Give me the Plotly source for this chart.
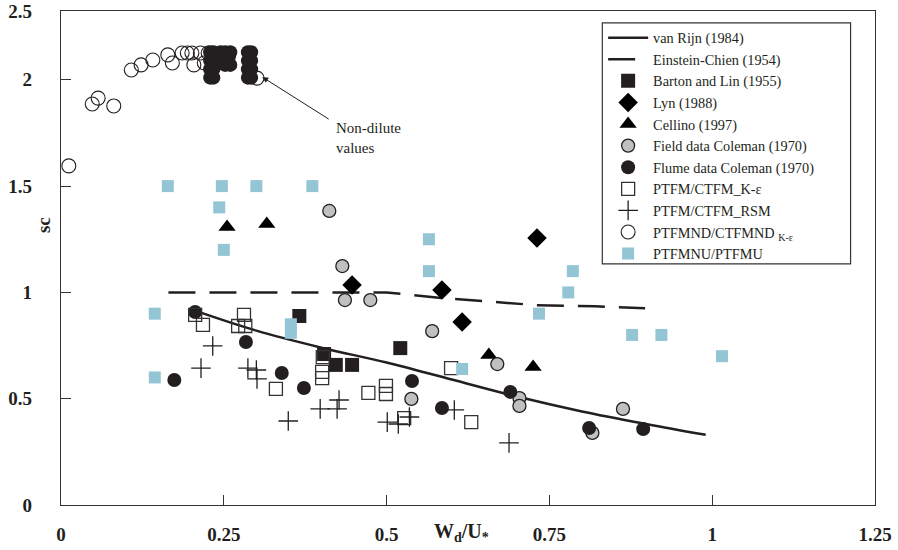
import plotly.graph_objects as go

# ---- data ---------------------------------------------------------------
# van Rijn (1984) curve
vr_x = [0.20, 0.30, 0.40, 0.50, 0.60, 0.70, 0.80, 0.90, 0.99]
vr_y = [0.92, 0.82, 0.74, 0.67, 0.59, 0.51, 0.44, 0.38, 0.33]

# Einstein-Chien (1954) curve
ec_x = [0.165, 0.50, 0.58, 0.66, 0.73, 0.82, 0.897]
ec_y = [1.00, 1.00, 0.975, 0.955, 0.94, 0.935, 0.925]

# Barton and Lin (1955)
bl_x = [0.366, 0.404, 0.422, 0.447, 0.521]
bl_y = [0.889, 0.710, 0.659, 0.659, 0.738]

# Lyn (1988)
lyn_x = [0.447, 0.585, 0.616, 0.731]
lyn_y = [1.035, 1.011, 0.861, 1.256]

# Cellino (1997)
cel_x = [0.255, 0.316, 0.657, 0.725]
cel_y = [1.308, 1.322, 0.706, 0.649]

# Field data Coleman (1970)
fld_x = [0.412, 0.432, 0.436, 0.475, 0.570, 0.670, 0.538, 0.704, 0.704, 0.863, 0.816]
fld_y = [1.383, 1.124, 0.964, 0.964, 0.818, 0.663, 0.499, 0.503, 0.466, 0.452, 0.339]

# Flume data Coleman (1970)
flm_x = [0.206, 0.284, 0.174, 0.339, 0.373, 0.539, 0.585, 0.690, 0.811, 0.894]
flm_y = [0.908, 0.767, 0.588, 0.621, 0.550, 0.583, 0.456, 0.532, 0.362, 0.357]

# PTFM/CTFM K-epsilon
ke_x = [0.206, 0.218, 0.281, 0.272, 0.283, 0.402, 0.401, 0.401, 0.330,
        0.472, 0.499, 0.499, 0.527, 0.599, 0.630]
ke_y = [0.894, 0.847, 0.894, 0.842, 0.842, 0.696, 0.626, 0.597, 0.546,
        0.527, 0.560, 0.522, 0.409, 0.644, 0.390]

# PTFM/CTFM RSM
rsm_x = [0.233, 0.215, 0.287, 0.300, 0.301, 0.349, 0.398, 0.424, 0.427,
         0.501, 0.518, 0.535, 0.604, 0.688]
rsm_y = [0.748, 0.644, 0.644, 0.635, 0.593, 0.395, 0.452, 0.452, 0.494,
         0.390, 0.381, 0.414, 0.447, 0.292]

# PTFMND/CTFMND K-epsilon (non-dilute runs)
nd_x = [0.012, 0.048, 0.057, 0.081, 0.108, 0.123, 0.141, 0.164, 0.171,
        0.186, 0.194, 0.201, 0.204, 0.214, 0.220, 0.226, 0.301]
nd_y = [1.595, 1.886, 1.914, 1.877, 2.046, 2.070, 2.093, 2.117, 2.079,
        2.126, 2.126, 2.126, 2.070, 2.126, 2.079, 2.126, 2.008]

# densely packed non-dilute values
ndc_x = [0.229, 0.229, 0.229, 0.229, 0.234, 0.234, 0.234, 0.234,
         0.240, 0.245, 0.245, 0.250, 0.252, 0.252, 0.258, 0.260, 0.260,
         0.287, 0.287, 0.287, 0.287, 0.292, 0.292, 0.292, 0.292]
ndc_y = [2.13, 2.09, 2.05, 2.01, 2.13, 2.09, 2.05, 2.01,
         2.11, 2.13, 2.08, 2.11, 2.13, 2.07, 2.11, 2.13, 2.07,
         2.13, 2.09, 2.05, 2.01, 2.13, 2.09, 2.05, 2.01]

# PTFMNU/PTFMU
nu_x = [0.164, 0.247, 0.300, 0.386, 0.243, 0.250, 0.144, 0.144, 0.353, 0.353,
        0.565, 0.565, 0.616, 0.786, 0.779, 0.734, 0.877, 0.922, 1.015]
nu_y = [1.50, 1.50, 1.50, 1.50, 1.40, 1.20, 0.90, 0.60, 0.85, 0.81,
        1.25, 1.10, 0.64, 1.10, 1.00, 0.90, 0.80, 0.80, 0.70]

x_ticks = [0, 0.25, 0.5, 0.75, 1, 1.25]
x_tick_text = ["0", "0.25", "0.5", "0.75", "1", "1.25"]
y_top = 2.3236
y_ticks = [0, 0.5, 1, 1.5, 2, y_top]
y_tick_text = ["0", "0.5", "1", "1.5", "2", "2.5"]

# ---- styling ------------------------------------------------------------
INK = "#231F20"
BLUE = "#93C5D5"
GREY = "#C0C0C0"
SERIF = "Liberation Serif"

fig = go.Figure()


def add(name, x, y, mode="markers", **kw):
    fig.add_trace(go.Scatter(x=x, y=y, mode=mode, name=name,
                             legendgroup=name, **kw))


add("van Rijn (1984)", vr_x, vr_y, mode="lines",
    line=dict(color=INK, width=2.5, shape="spline"))
add("Einstein-Chien (1954)", ec_x, ec_y, mode="lines",
    line=dict(color=INK, width=2.5, dash="27px,14px"))
add("Barton and Lin (1955)", bl_x, bl_y,
    marker=dict(symbol="square", size=14, color=INK))
add("Lyn (1988)", lyn_x, lyn_y,
    marker=dict(symbol="diamond", size=15, color="black"))
add("Cellino (1997)", cel_x, cel_y,
    marker=dict(symbol="triangle-up", size=15, color="black"))
add("Field data Coleman (1970)", fld_x, fld_y,
    marker=dict(symbol="circle", size=13, color=GREY,
                line=dict(color=INK, width=1.3)))
add("Flume data Coleman (1970)", flm_x, flm_y,
    marker=dict(symbol="circle", size=14, color=INK))
add("PTFM/CTFM_K-\u03b5", ke_x, ke_y,
    marker=dict(symbol="square-open", size=13, color="#333333",
                line=dict(width=1.3)))
add("PTFM/CTFM_RSM", rsm_x, rsm_y,
    marker=dict(symbol="cross-thin-open", size=14, color=INK,
                line=dict(width=1.3, color=INK)))
add("PTFMND/CTFMND <sub>K-\u03b5</sub>", nd_x, nd_y,
    marker=dict(symbol="circle-open", size=14, color=INK,
                line=dict(width=1.1)))
fig.add_trace(go.Scatter(x=ndc_x, y=ndc_y, mode="markers", showlegend=False,
                         hoverinfo="skip",
                         marker=dict(symbol="circle", size=14, color=INK)))
add("PTFMNU/PTFMU", nu_x, nu_y,
    marker=dict(symbol="square", size=12, color=BLUE))

# legend frame
fig.add_shape(type="rect", xref="paper", yref="paper",
              x0=0.665, x1=0.97, y0=0.488, y1=0.976,
              line=dict(color="#333333", width=1.2),
              fillcolor="white", layer="above")

# pointer to the non-dilute cluster
fig.add_annotation(x=0.309, y=2.013, xref="x", yref="y", text="",
                   showarrow=True, ax=68, ay=43, arrowhead=2,
                   arrowsize=1.2, arrowwidth=1, arrowcolor=INK)
fig.add_annotation(x=0.419, y=1.725, xref="x", yref="y",
                   text="Non-dilute<br>values", showarrow=False,
                   xanchor="left", align="left",
                   font=dict(family=SERIF, size=15, color=INK))

# axis titles
fig.add_annotation(x=0.492, y=-0.056, xref="paper", yref="paper",
                   yanchor="middle",
                   text="W<sub>d</sub>/U<sub>*</sub>", showarrow=False,
                   font=dict(family=SERIF, size=20, color=INK, weight="bold"))
fig.add_annotation(x=-0.036, y=0.567, xref="paper", yref="paper",
                   text="sc", textangle=-90, showarrow=False,
                   font=dict(family=SERIF, size=19, color=INK, weight="bold"))

axis_common = dict(showgrid=False, zeroline=False, showline=True,
                   linecolor="#333333", linewidth=1.4, mirror=True,
                   ticks="inside", ticklen=10, tickcolor="#333333",
                   tickwidth=1.2, automargin=False,
                   tickfont=dict(family=SERIF, size=19, color=INK,
                                 weight="bold"))

fig.update_xaxes(range=[0, 1.25], tickvals=x_ticks, ticktext=x_tick_text,
                 ticklabelstandoff=12, **axis_common)
fig.update_yaxes(range=[0, y_top], tickvals=y_ticks, ticktext=y_tick_text,
                 ticklabelstandoff=24, **axis_common)

fig.update_layout(
    width=898, height=550,
    margin=dict(l=61, r=23, t=11, b=45, autoexpand=False),
    paper_bgcolor="white", plot_bgcolor="white",
    showlegend=True,
    legend=dict(x=0.666, y=0.978, xanchor="left", yanchor="top",
                bgcolor="rgba(0,0,0,0)", borderwidth=0,
                tracegroupgap=0, itemwidth=40,
                font=dict(family=SERIF, size=14.3, color=INK)),
)

fig.write_html("out.html")
